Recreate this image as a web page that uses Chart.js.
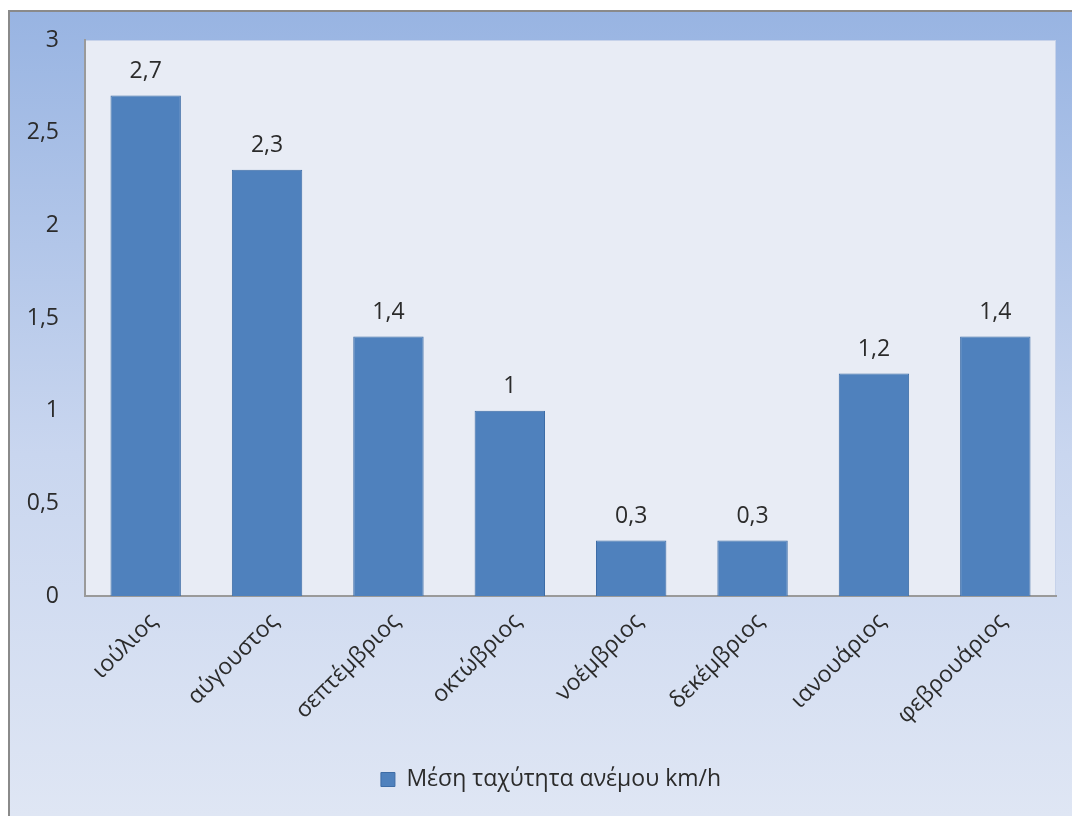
<!DOCTYPE html>
<html>
<head>
<meta charset="utf-8">
<script src="https://cdn.jsdelivr.net/npm/chart.js@4/dist/chart.umd.min.js"></script>
<style>
  html, body { margin: 0; padding: 0; background: #ffffff; }
  canvas { display: block; }
</style>
</head>
<body>
<canvas id="c" width="1072" height="816"></canvas>
<script>
// Monthly mean wind speed
const months = ["ιούλιος", "αύγουστος", "σεπτέμβριος", "οκτώβριος", "νοέμβριος", "δεκέμβριος", "ιανουάριος", "φεβρουάριος"];
const windSpeed = [2.7, 2.3, 1.4, 1, 0.3, 0.3, 1.2, 1.4];
const seriesName = "Μέση ταχύτητα ανέμου km/h";
const yTickValues = [0, 0.5, 1, 1.5, 2, 2.5, 3];

const FONT = "'Open Sans', 'DejaVu Sans', sans-serif";
const TEXT = "#2b2b2b";
const SIZE = 23;

const fmt = v => String(v).replace('.', ',');

// Framed gradient backdrop and plot-area panel
const backdrop = {
  id: 'backdrop',
  beforeDraw(chart) {
    const { ctx, width, height, chartArea: a } = chart;
    ctx.save();
    ctx.fillStyle = '#ffffff';
    ctx.fillRect(0, 0, width, height);
    const g = ctx.createLinearGradient(0, 10, 0, height);
    g.addColorStop(0, '#98b4e2');
    g.addColorStop(0.55, '#c9d6ef');
    g.addColorStop(1, '#dfe6f4');
    ctx.fillStyle = g;
    ctx.fillRect(8, 10, width - 8, height - 10);
    ctx.strokeStyle = '#8a8a8a';
    ctx.lineWidth = 2;
    ctx.beginPath();
    ctx.moveTo(9, height);
    ctx.lineTo(9, 11);
    ctx.lineTo(width, 11);
    ctx.stroke();
    ctx.fillStyle = '#e8ecf5';
    ctx.fillRect(a.left, a.top, a.right - a.left, a.bottom - a.top);
    ctx.strokeStyle = '#c6d2ea';
    ctx.lineWidth = 1;
    ctx.strokeRect(a.left + 0.5, a.top + 0.5, a.right - a.left - 1, a.bottom - a.top - 1);
    ctx.restore();
  }
};

// Nudge the legend a little to the right of the canvas centre
const legendShift = {
  id: 'legendShift',
  afterLayout(chart) {
    const lg = chart.legend;
    if (lg) { lg.left += 23; lg.right += 23; }
  }
};

// Value labels above each bar
const valueLabels = {
  id: 'valueLabels',
  afterDatasetsDraw(chart) {
    const { ctx } = chart;
    const meta = chart.getDatasetMeta(0);
    ctx.save();
    ctx.font = SIZE + "px " + FONT;
    ctx.fillStyle = TEXT;
    ctx.textAlign = 'center';
    ctx.textBaseline = 'middle';
    meta.data.forEach((bar, i) => {
      ctx.fillText(fmt(windSpeed[i]), bar.x, bar.y - 24);
    });
    ctx.restore();
  }
};

new Chart(document.getElementById('c'), {
  type: 'bar',
  data: {
    labels: months,
    datasets: [{
      label: seriesName,
      data: windSpeed,
      backgroundColor: '#4f81bd',
      borderColor: '#3d6ca6',
      borderWidth: 1,
      categoryPercentage: 1,
      barPercentage: 0.58
    }]
  },
  options: {
    responsive: false,
    devicePixelRatio: 1,
    animation: false,
    layout: { padding: { top: 40, left: 0, right: 16, bottom: 15 } },
    plugins: {
      legend: {
        position: 'bottom',
        labels: {
          font: { size: SIZE, family: FONT },
          color: TEXT,
          boxWidth: 14,
          boxHeight: 14,
          padding: 12
        }
      },
      tooltip: { enabled: false }
    },
    scales: {
      x: {
        grid: { display: false, drawTicks: false },
        border: { display: true, color: '#9a9a9a', width: 2 },
        ticks: {
          color: TEXT,
          font: { size: SIZE, family: FONT },
          maxRotation: 45,
          minRotation: 45,
          padding: 12,
          labelOffset: 8
        },
        afterFit(scale) { scale.height = 160; }
      },
      y: {
        min: 0,
        max: 3,
        afterBuildTicks(scale) { scale.ticks = yTickValues.map(v => ({ value: v })); },
        grid: { display: false, drawTicks: false },
        border: { display: true, color: '#9a9a9a', width: 2 },
        ticks: {
          color: TEXT,
          font: { size: SIZE, family: FONT },
          padding: 26,
          callback: v => fmt(v)
        },
        afterFit(scale) { scale.width = 85; }
      }
    }
  },
  plugins: [backdrop, legendShift, valueLabels]
});
</script>
</body>
</html>
